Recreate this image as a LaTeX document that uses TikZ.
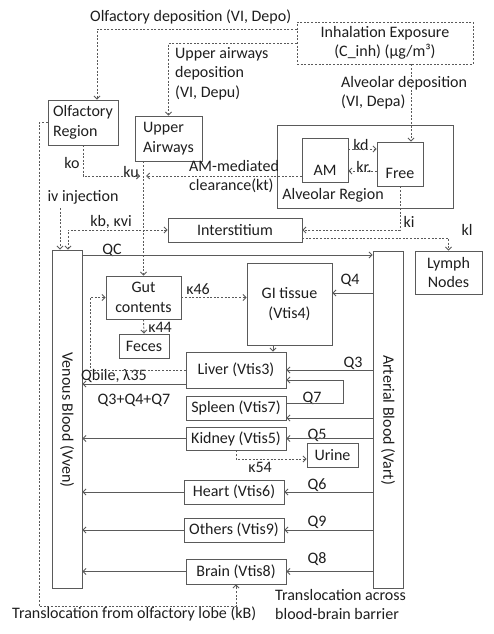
\documentclass[tikz,border=0pt]{standalone}
\usepackage{fontspec}
\setmainfont{Carlito}
\usetikzlibrary{arrows.meta}
\definecolor{lc}{HTML}{5A5A5A}
\definecolor{tc}{HTML}{1E1E1E}
\begin{document}
\begin{tikzpicture}[x=1pt,y=-1pt,
  every node/.style={font=\fontsize{16}{19.5}\selectfont, text=tc},
  >={Straight Barb[length=3pt,width=6pt]},
  box/.style={draw=lc, line width=0.9pt, inner sep=0pt, align=center},
  dbox/.style={dash pattern=on 2pt off 1.6pt},
  dl/.style={draw=lc, line width=0.9pt, dash pattern=on 2pt off 1.6pt},
  sl/.style={draw=lc, line width=0.9pt},
  lbl/.style={inner sep=0pt},
  lbll/.style={inner sep=0pt, align=left}]
\useasboundingbox (0,0) rectangle (493,634);

% boxes
\node[box, dbox, minimum width=176pt, minimum height=42pt] (inh) at (385,43) {Inhalation Exposure\\(C\_inh) (µg/m³)};
\node[box, align=left, minimum width=70pt, minimum height=45pt] (olf) at (83,122.5) {Olfactory\\Region};
\node[box, align=left, minimum width=67pt, minimum height=45pt] (up) at (168.5,138.5) {Upper\\Airways};
\node[box, minimum width=176pt, minimum height=83pt] (alv) at (365,166.5) {};
\node[box, minimum width=46pt, minimum height=44pt] (am) at (325,160) {};
\node[box, minimum width=46pt, minimum height=44pt] (free) at (400,164) {};
\node[lbl] (amt) at (325,170) {AM};
\node[lbl] (freet) at (400,173) {Free};
\node[lbl] (alvt) at (333,195) {Alveolar Region};
\node[box, minimum width=134pt, minimum height=24pt] (inter) at (235,230) {Interstitium};
\node[box, minimum width=67pt, minimum height=43pt] (lymph) at (448.5,272.5) {Lymph\\Nodes};
\node[box, minimum width=30pt, minimum height=338pt] (ven) at (67,419) {};
\node[box, minimum width=30pt, minimum height=337pt] (art) at (388,419.5) {};
\node[lbl, rotate=-90] (vent) at (67,420) {Venous Blood (Vven)};
\node[lbl, rotate=-90] (artt) at (388,420) {Arterial Blood (Vart)};
\node[box, minimum width=75pt, minimum height=43pt] (gut) at (143.5,297.5) {Gut\\contents};
\node[box, minimum width=50pt, minimum height=24pt] (feces) at (144,346) {Feces};
\node[box, minimum width=85pt, minimum height=82pt] (gi) at (289.5,304) {GI tissue\\(Vtis4)};
\node[box, minimum width=100pt, minimum height=36pt] (liver) at (236,370) {Liver (Vtis3)};
\node[box, minimum width=100pt, minimum height=24pt] (spleen) at (236,408) {Spleen (Vtis7)};
\node[box, minimum width=100pt, minimum height=23pt] (kidney) at (236,438.5) {Kidney (Vtis5)};
\node[box, minimum width=51pt, minimum height=24pt] (urine) at (332.5,455) {Urine};
\node[box, minimum width=100pt, minimum height=24pt] (heart) at (234,492) {Heart (Vtis6)};
\node[box, minimum width=100pt, minimum height=24pt] (others) at (234,530) {Others (Vtis9)};
\node[box, minimum width=100pt, minimum height=25pt] (brain) at (236,571.5) {Brain (Vtis8)};

% labels
\node[lbl, anchor=west] (l1) at (90,17) {Olfactory deposition (VI, Depo)};
\node[lbll, anchor=north west] (l2) at (175,47) {Upper airways\\deposition\\(VI, Depu)};
\node[lbll, anchor=north west] (l3) at (341,76) {Alveolar deposition\\(VI, Depa)};
\node[lbl] (lko) at (72,163) {ko};
\node[lbl] (lku) at (131,172) {ku};
\node[lbll, anchor=north west] (lkt) at (189,160) {AM-mediated\\clearance(kt)};
\node[lbl] (lkd) at (361,145) {kd};
\node[lbl] (lkr) at (364,167) {kr.};
\node[lbl] (liv) at (83,197) {iv injection};
\node[lbl] (lkb) at (111,222) {kb, κvi};
\node[lbl] (lki) at (409,222) {ki};
\node[lbl] (lkl) at (467,230) {kl};
\node[lbl] (lqc) at (112,250) {QC};
\node[lbl] (lq4) at (350,280) {Q4};
\node[lbl] (lk46) at (198,289) {κ46};
\node[lbl] (lk44) at (160,327) {κ44};
\node[lbl] (lqb) at (114,376) {Qbile, λ35};
\node[lbl] (lqs) at (134,400) {Q3+Q4+Q7};
\node[lbl] (lq3) at (353,363) {Q3};
\node[lbl] (lq7) at (312,398) {Q7};
\node[lbl] (lq5) at (317,435) {Q5};
\node[lbl] (lk54) at (260,467) {κ54};
\node[lbl] (lq6) at (317,485) {Q6};
\node[lbl] (lq9) at (317,522) {Q9};
\node[lbl] (lq8) at (317,559) {Q8};
\node[lbl, anchor=west] (ltr) at (12,614) {Translocation from olfactory lobe (kB)};
\node[lbll, anchor=north west] (lbb) at (275,589) {Translocation across\\blood-brain barrier};

% coordinates
\coordinate (p1) at (97,29);
\coordinate (p3) at (411,0);
\coordinate (kdy) at (0,149);
\coordinate (kry) at (0,171);
\coordinate (jl) at (140,176);
\coordinate (jr) at (146,176);
\coordinate (ob) at (39,606);
\coordinate (ivs) at (60,208);
\coordinate (kbx) at (68,0);
\coordinate (kl0) at (302,238);
\coordinate (qc) at (0,255);
\coordinate (q4) at (0,293);
\coordinate (gl) at (273,0);
\coordinate (qb) at (90,370);
\coordinate (lv) at (0,384);
\coordinate (q7a) at (343,403);
\coordinate (q7b) at (0,380);
\coordinate (sp) at (0,418);
\coordinate (k54) at (0,459);

% connectors
\draw[dl,->] (inh.west |- p1) -| (olf.north -| p1);
\draw[dl,->] (inh.west) -| (up.north);
\draw[dl,->] (inh.south -| p3) -- (free.north -| p3);
\draw[dl,->] (am.east |- kdy) -- (free.west |- kdy);
\draw[dl,->] (free.west |- kry) -- (am.east |- kry);
\draw[dl,->] (am.west |- jr) -- (jr);
\draw[dl,->] (olf.south) |- (jl);
\draw[dl,->] (up.south -| gut.north) -- (gut.north);
\draw[dl,->] (olf.west) -| (ob) -| (brain.south);
\draw[dl,->] (ivs) -- (ivs |- ven.north);
\draw[dl,<->] (inter.west) -| (ven.north -| kbx);
\draw[dl,->] (free.south) |- (inter.east);
\draw[dl,->] (kl0) -| (lymph.north);
\draw[sl,->] (ven.east |- qc) -- (art.west |- qc);
\draw[sl,->] (art.west |- q4) -- (gi.east |- q4);
\draw[dl,->] (gut.east) -- (gi.west |- gut.east);
\draw[dl,->] (gut.south) -- (feces.north);
\draw[sl,->] (gi.south -| gl) -- (liver.north -| gl);
\draw[dl,->] (liver.west) -- (qb) |- (gut.west);
\draw[sl,->] (liver.west |- lv) -- (ven.east |- lv);
\draw[sl,->] (art.west |- liver.east) -- (liver.east);
\draw[sl,->] (spleen.east |- q7a) -| (q7a |- q7b) -- (liver.east |- q7b);
\draw[sl,->] (art.west |- sp) -- (spleen.east |- sp);
\draw[sl,->] (art.west |- kidney.east) -- (kidney.east);
\draw[sl,->] (kidney.west) -- (ven.east |- kidney.west);
\draw[dl,->] (kidney.south) |- (urine.west |- k54);
\draw[sl,->] (art.west |- heart.east) -- (heart.east);
\draw[sl,->] (heart.west) -- (ven.east |- heart.west);
\draw[sl,->] (art.west |- others.east) -- (others.east);
\draw[sl,->] (others.west) -- (ven.east |- others.west);
\draw[sl,->] (art.west |- brain.east) -- (brain.east);
\draw[sl,->] (brain.west) -- (ven.east |- brain.west);
\end{tikzpicture}
\end{document}
